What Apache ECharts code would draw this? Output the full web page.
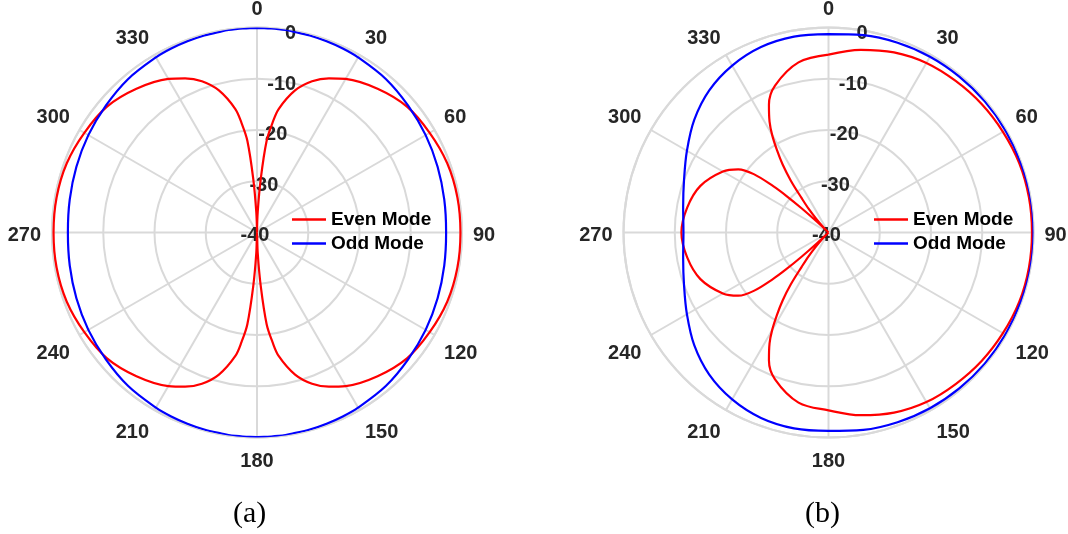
<!DOCTYPE html>
<html>
<head>
<meta charset="utf-8">
<title>Even / Odd Mode Patterns</title>
<script src="https://cdn.jsdelivr.net/npm/echarts@6/dist/echarts.min.js"></script>
<style>
html, body { margin: 0; padding: 0; background: #fff; }
#chart { width: 1068px; height: 534px; }
</style>
</head>
<body>
<div id="chart"></div>
<script>
// (a) angles in degrees, gain in dB
var anglesA = [0, 2, 4, 6, 8, 10, 15, 20, 25, 30, 40, 50, 60, 70, 80, 90,
	100, 110, 120, 130, 140, 150, 155, 160, 165, 170, 172, 174, 176, 178, 180,
	182, 184, 186, 188, 190, 195, 200, 205, 210, 220, 230, 240, 250, 260, 270,
	280, 290, 300, 310, 320, 330, 335, 340, 345, 350, 352, 354, 356, 358, 360];
var evenA = [-40, -36, -29.5, -22, -18.5, -15.5, -11.3, -8.6, -6.8, -5.4, -3.4, -1.8, -1.1, -0.5, -0.3, -0.3,
	-0.3, -0.5, -1.1, -1.8, -3.4, -5.4, -6.8, -8.6, -11.3, -15.5, -18.5, -22, -29.5, -36, -40,
	-36, -29.5, -22, -18.5, -15.5, -11.3, -8.6, -6.8, -5.4, -3.4, -1.8, -1.1, -0.5, -0.3, -0.3,
	-0.3, -0.5, -1.1, -1.8, -3.4, -5.4, -6.8, -8.6, -11.3, -15.5, -18.5, -22, -29.5, -36, -40];
var oddA = [-0.1, -0.1, -0.1, -0.1, -0.1, -0.15, -0.2, -0.3, -0.4, -0.55, -0.9, -1.5, -2.0, -2.5, -2.9, -3.1,
	-2.9, -2.5, -2.0, -1.5, -0.9, -0.55, -0.4, -0.3, -0.2, -0.15, -0.1, -0.1, -0.1, -0.1, -0.1,
	-0.1, -0.1, -0.1, -0.1, -0.15, -0.2, -0.3, -0.4, -0.55, -0.9, -1.5, -2.0, -2.5, -2.9, -3.1,
	-2.9, -2.5, -2.0, -1.5, -0.9, -0.55, -0.4, -0.3, -0.2, -0.15, -0.1, -0.1, -0.1, -0.1, -0.1];

// (b)
var anglesEvenB = [0, 10, 20, 30, 40, 50, 60, 70, 80, 90,
	100, 110, 120, 130, 140, 150, 160, 170, 180,
	190, 200, 205, 208, 210, 212, 214, 216, 218, 220, 222, 224, 226, 227, 228, 229, 230, 232, 235, 240, 250, 260, 270,
	280, 290, 300, 305, 308, 310, 311, 312, 313, 314, 316, 318, 320, 322, 324, 326, 328, 330, 332, 335, 340, 350, 360];
var evenB = [-5.3, -3.8, -2.6, -1.8, -1.4, -1.0, -0.7, -0.4, -0.3, -0.3,
	-0.3, -0.4, -0.7, -1.0, -1.4, -1.8, -2.6, -3.8, -5.3,
	-6.3, -9.5, -12.5, -15.5, -18, -21, -24, -27.5, -31.5, -34, -36.5, -38.5, -40, -37, -33, -29, -26, -21.5, -18.5, -16.2, -13.4, -12.0, -11.3,
	-12.0, -13.4, -16.2, -18.5, -21.5, -26, -29, -33, -37, -40, -38.5, -36.5, -34, -31.5, -27.5, -24, -21, -18, -15.5, -12.5, -9.5, -6.3, -5.3];
var anglesOddB = [0, 10, 20, 30, 40, 50, 60, 70, 80, 90, 100, 110, 120, 130, 140, 150, 160, 170, 180,
	190, 200, 210, 220, 230, 240, 250, 260, 270, 280, 290, 300, 310, 320, 330, 340, 350, 360];
var oddB = [-1.3, -0.9, -0.6, -0.4, -0.3, -0.2, -0.15, -0.1, 0, 0, 0, -0.1, -0.15, -0.2, -0.3, -0.4, -0.6, -0.9, -1.3,
	-1.2, -1.5, -2.4, -3.8, -5.8, -8.1, -10.0, -11.2, -11.7, -11.2, -10.0, -8.1, -5.8, -3.8, -2.4, -1.5, -1.2, -1.3];

var dbTicks = [-40, -30, -20, -10, 0];
var angleStep = 30;
var seriesNames = ['Even Mode', 'Odd Mode'];
var captions = ['(a)', '(b)'];

var gridColor = '#d9d9d9';
var labelFont = {fontFamily: 'Liberation Sans', fontWeight: 'bold', fontSize: 20, color: '#262626'};

function toPolar(values, angles) {
	var data = [];
	for (var i = 0; i < values.length; i++) {
		data.push([values[i], angles[i]]);
	}
	return data;
}

function angleAxisFor(idx, start, lines, labels) {
	return {
		polarIndex: idx,
		type: 'value',
		min: 0,
		max: 360,
		interval: angleStep,
		startAngle: start,
		clockwise: true,
		axisLine: {show: lines, lineStyle: {color: gridColor, width: 2}},
		axisTick: {show: false},
		splitLine: {show: lines, lineStyle: {color: gridColor, width: 2}},
		axisLabel: Object.assign({show: labels, margin: 11}, labelFont)
	};
}

function radiusAxisFor(idx, lines, labels) {
	return {
		polarIndex: idx,
		type: 'value',
		min: dbTicks[0],
		max: dbTicks[dbTicks.length - 1],
		interval: 10,
		axisLine: {show: false},
		axisTick: {show: false},
		splitLine: {show: lines, lineStyle: {color: gridColor, width: 2}},
		axisLabel: Object.assign({
			show: labels,
			margin: 0,
			align: 'center',
			verticalAlign: 'middle',
			showMinLabel: true,
			showMaxLabel: true
		}, labelFont)
	};
}

function modeSeries(name, polarIdx, values, angles, color) {
	return {
		name: name,
		type: 'line',
		coordinateSystem: 'polar',
		polarIndex: polarIdx,
		symbol: 'none',
		smooth: 0.35,
		z: 5,
		lineStyle: {color: color, width: 2.2},
		itemStyle: {color: color},
		data: toPolar(values, angles)
	};
}

function legendAt(left) {
	return {
		orient: 'vertical',
		left: left,
		top: 210,
		padding: 0,
		icon: 'rect',
		itemWidth: 34,
		itemHeight: 2.5,
		itemGap: 5,
		data: seriesNames,
		textStyle: {fontFamily: 'Liberation Sans', fontWeight: 'bold', fontSize: 19, color: '#000', lineHeight: 19}
	};
}

function caption(text, left) {
	return {
		text: text,
		left: left,
		top: 499,
		padding: 0,
		textStyle: {fontFamily: 'Liberation Serif', fontWeight: 'normal', fontSize: 30, color: '#000'}
	};
}

var chart = echarts.init(document.getElementById('chart'));
var option = {
	animation: false,
	backgroundColor: '#fff',
	title: [caption(captions[0], 233), caption(captions[1], 805)],
	legend: [legendAt(292), legendAt(874)],
	// per plot: grid, dB labels (slanted spoke), angle labels
	polar: [
		{center: [257, 232.5], radius: 205},
		{center: [255, 235.5], radius: 205},
		{center: [257, 235.5], radius: 205},
		{center: [828.5, 232.5], radius: 205},
		{center: [826.5, 235.5], radius: 205},
		{center: [828.5, 235.5], radius: 205}
	],
	angleAxis: [
		angleAxisFor(0, 90, true, false),
		angleAxisFor(1, 80, false, false),
		angleAxisFor(2, 90, false, true),
		angleAxisFor(3, 90, true, false),
		angleAxisFor(4, 80, false, false),
		angleAxisFor(5, 90, false, true)
	],
	radiusAxis: [
		radiusAxisFor(0, true, false),
		radiusAxisFor(1, false, true),
		radiusAxisFor(2, false, false),
		radiusAxisFor(3, true, false),
		radiusAxisFor(4, false, true),
		radiusAxisFor(5, false, false)
	],
	series: [
		modeSeries(seriesNames[0], 0, evenA, anglesA, '#ff0000'),
		modeSeries(seriesNames[1], 0, oddA, anglesA, '#0000ff'),
		modeSeries(seriesNames[0], 3, evenB, anglesEvenB, '#ff0000'),
		modeSeries(seriesNames[1], 3, oddB, anglesOddB, '#0000ff')
	]
};
chart.setOption(option);
</script>
</body>
</html>
